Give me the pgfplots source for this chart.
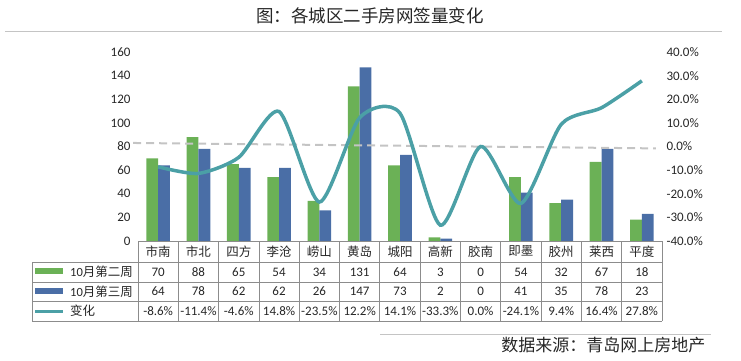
\documentclass[border=0pt]{standalone}
\usepackage{pgfplots}
\pgfplotsset{compat=1.18}
\usepackage{fontspec}
\setmainfont{Carlito}
\newfontfamily\cjk{Noto Sans CJK SC}
\definecolor{cgreen}{HTML}{6BB156}
\definecolor{cblue}{HTML}{4A6EA6}
\definecolor{cteal}{HTML}{4BA0A6}
\definecolor{cgrid}{HTML}{8C8C8C}
\definecolor{cdash}{HTML}{C4C4C4}
\definecolor{ctxt}{HTML}{262626}
\begin{document}
\begin{tikzpicture}
\useasboundingbox (0pt,0pt) rectangle (741pt,360pt);

\begin{axis}[at={(138pt,119pt)}, anchor=south west, width=524pt, height=189pt, scale only axis,
  xmin=-0.5, xmax=12.5, ymin=0, ymax=160,
  axis lines*=left, axis line style={draw=none}, major tick length=0pt,
  ytick={0,20,...,160}, yticklabels={0,20,40,60,80,100,120,140,160},
  yticklabel style={font=\fontsize{13}{13}\selectfont, text=ctxt, xshift=-4pt},
  xtick={0,...,12},
  xticklabels={市南,市北,四方,李沧,崂山,黄岛,城阳,高新,胶南,即墨,胶州,莱西,平度},
  xticklabel style={font=\cjk\fontsize{12.5}{13}\selectfont, text=ctxt, anchor=center, yshift=-10.5pt},
  ybar=0pt, bar width=11.8pt, clip=false]
\addplot[fill=cgreen, draw=none] coordinates {(0,70) (1,88) (2,65) (3,54) (4,34) (5,131) (6,64) (7,3) (8,0) (9,54) (10,32) (11,67) (12,18)};
\addplot[fill=cblue, draw=none] coordinates {(0,64) (1,78) (2,62) (3,62) (4,26) (5,147) (6,73) (7,2) (8,0) (9,41) (10,35) (11,78) (12,23)};
\end{axis}

\begin{axis}[at={(138pt,119pt)}, anchor=south west, width=524pt, height=189pt, scale only axis,
  xmin=-0.5, xmax=12.5, ymin=-40, ymax=40,
  axis y line*=right, axis x line*=bottom, axis line style={draw=none}, major tick length=0pt,
  xtick=\empty,
  ytick={-40,-30,...,40},
  yticklabels={{-40.0\%},{-30.0\%},{-20.0\%},{-10.0\%},{0.0\%},{10.0\%},{20.0\%},{30.0\%},{40.0\%}},
  yticklabel style={font=\fontsize{13}{13}\selectfont, text=ctxt, xshift=1pt},
  clip=false]
\addplot[cdash, line width=2pt, dash pattern=on 8pt off 5pt] coordinates {(-0.62,1.5) (12.35,-0.8)};
\addplot[cteal, line width=3.5pt, smooth, tension=0.42] coordinates {(0,-8.6) (1,-11.4) (2,-4.6) (3,14.8) (4,-23.5) (5,12.2) (6,14.1) (7,-33.3) (8,0.0) (9,-24.1) (10,9.4) (11,16.4) (12,27.8)};
\end{axis}

\begin{scope}[x=1pt,y=1pt]
% title and rules
\node[font=\cjk\fontsize{17.5}{17.5}\selectfont, text=ctxt] at (370,344) {图：各城区二手房网签量变化};
\draw[color=cdash, line width=0.9pt] (5,329) -- (722,329);
\draw[color=cdash, line width=0.9pt] (380,26) -- (711,26);
\node[font=\cjk\fontsize{17}{17}\selectfont, text=ctxt, anchor=east] at (709,15) {数据来源：青岛网上房地产};
% data table
\begin{scope}[color=cgrid, line width=0.8pt]
\draw (138,119) -- (662,119);
\draw (32,98) -- (662,98);
\draw (32,78) -- (662,78);
\draw (32,59) -- (662,59);
\draw (32,39) -- (662,39);
\draw (32,98) -- (32,39);
\foreach \k in {0,...,13} \draw ({138+40.3077*\k},119) -- ({138+40.3077*\k},39);
\end{scope}
\fill[cgreen] (35,86) rectangle (63,92);
\fill[cblue] (35,66.5) rectangle (63,72.5);
\draw[cteal, line width=3pt] (35,49) -- (63,49);
\node[anchor=west, font=\fontsize{12.5}{13}\selectfont, text=ctxt, inner sep=0pt] at (70,88) {10{\cjk 月第二周}};
\node[anchor=west, font=\fontsize{12.5}{13}\selectfont, text=ctxt, inner sep=0pt] at (70,68.5) {10{\cjk 月第三周}};
\node[anchor=west, font=\cjk\fontsize{12.5}{13}\selectfont, text=ctxt, inner sep=0pt] at (70,49) {变化};
\foreach \v [count=\i from 0] in {70,88,65,54,34,131,64,3,0,54,32,67,18}
  \node[font=\fontsize{13}{13}\selectfont, text=ctxt] at ({138+40.3077*(\i+0.5)},88) {\v};
\foreach \v [count=\i from 0] in {64,78,62,62,26,147,73,2,0,41,35,78,23}
  \node[font=\fontsize{13}{13}\selectfont, text=ctxt] at ({138+40.3077*(\i+0.5)},68.5) {\v};
\foreach \v [count=\i from 0] in {-8.6,-11.4,-4.6,14.8,-23.5,12.2,14.1,-33.3,0.0,-24.1,9.4,16.4,27.8}
  \node[font=\fontsize{13}{13}\selectfont, text=ctxt, inner xsep=0pt] at ({138+40.3077*(\i+0.5)},49) {\v\%};
\end{scope}
\end{tikzpicture}
\end{document}
